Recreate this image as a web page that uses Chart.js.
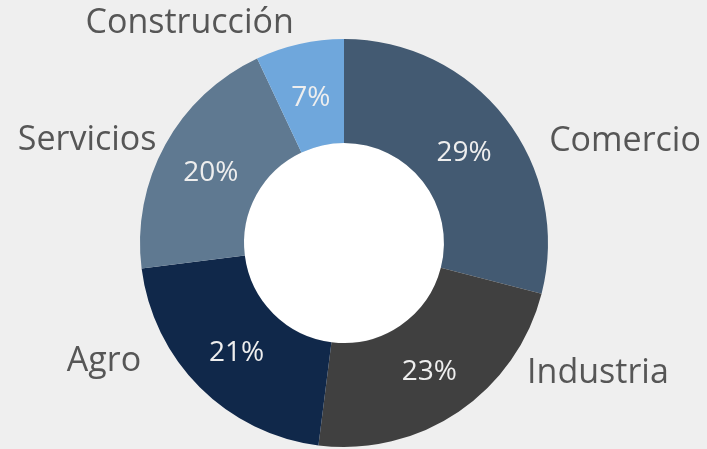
<!DOCTYPE html>
<html>
<head>
<meta charset="utf-8">
<script src="https://cdn.jsdelivr.net/npm/chart.js@4"></script>
<style>
  html, body { margin: 0; padding: 0; background: #efefef; }
  #wrap { width: 707px; height: 449px; }
</style>
</head>
<body>
<div id="wrap"><canvas id="chart"></canvas></div>
<script>
const categories = ['Comercio', 'Industria', 'Agro', 'Servicios', 'Construcción'];
const shares = [29, 23, 21, 20, 7];
const colors = ['#435a72', '#404040', '#10284a', '#5f7991', '#6fa7dc'];

// where each name sits: angle (deg from top, clockwise) and radius factor
const nameAngle = [70, 117, 244, 292, 325];
const nameRadius = [1.466, 1.397, 1.309, 1.358, 1.319];

const labelPlugin = {
  id: 'labels',
  beforeDatasetsDraw(chart) {
    const arc = chart.getDatasetMeta(0).data[0];
    const ctx = chart.ctx;
    ctx.save();
    ctx.fillStyle = '#ffffff';
    ctx.beginPath();
    ctx.arc(arc.x, arc.y, arc.innerRadius, 0, Math.PI * 2);
    ctx.fill();
    ctx.restore();
  },
  afterDatasetsDraw(chart) {
    const ctx = chart.ctx;
    const meta = chart.getDatasetMeta(0);
    ctx.save();
    ctx.textAlign = 'center';
    ctx.textBaseline = 'middle';
    meta.data.forEach((a, i) => {
      const mid = (a.startAngle + a.endAngle) / 2;
      const r = (a.innerRadius + a.outerRadius) / 2;
      ctx.fillStyle = '#eeeeee';
      ctx.font = '28px "Open Sans"';
      ctx.fillText(shares[i] + '%', a.x + Math.cos(mid) * r, a.y + Math.sin(mid) * r + 3);

      const t = (nameAngle[i] - 90) * Math.PI / 180;
      const rr = a.outerRadius * nameRadius[i];
      ctx.fillStyle = '#565656';
      ctx.font = '34px "Open Sans"';
      ctx.fillText(categories[i], a.x + Math.cos(t) * rr, a.y + Math.sin(t) * rr + 1);
    });
    ctx.restore();
  }
};

new Chart(document.getElementById('chart'), {
  type: 'doughnut',
  data: {
    labels: categories,
    datasets: [{
      data: shares,
      backgroundColor: colors,
      borderWidth: 0
    }]
  },
  options: {
    responsive: true,
    maintainAspectRatio: false,
    animation: false,
    cutout: '49%',
    layout: { padding: { top: 39, bottom: 2, left: 140, right: 159 } },
    plugins: { legend: { display: false }, tooltip: { enabled: false } }
  },
  plugins: [labelPlugin]
});
</script>
</body>
</html>
